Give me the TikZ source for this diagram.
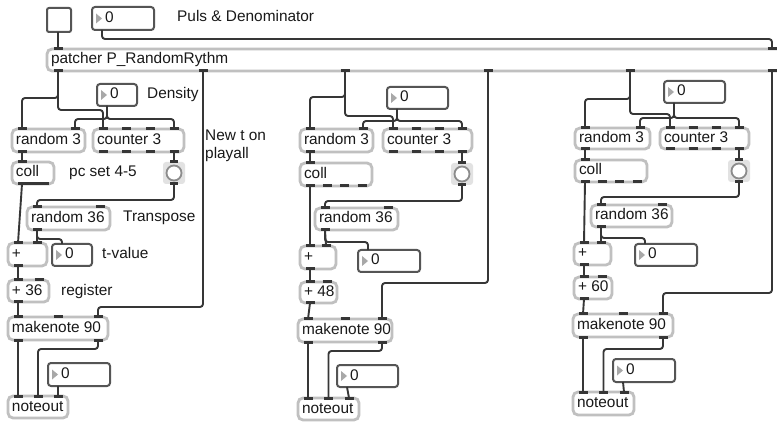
\documentclass[tikz,border=0pt]{standalone}
\usepackage{fontspec}
\setmainfont{Liberation Sans}
\usetikzlibrary{calc}

\definecolor{cordc}{HTML}{363636}
\definecolor{boxedge}{HTML}{C0C0C0}
\definecolor{numedge}{HTML}{555555}
\definecolor{trigray}{HTML}{A8A8A8}
\definecolor{bangbg}{HTML}{E2E2E2}
\definecolor{bangedge}{HTML}{8C8C8C}

% inlet / outlet marks along one edge of a box
\newcommand\mxPorts[6]{% name, kind (i/o), x, y, width, count
  \foreach \k in {1,...,#6}{%
    \pgfmathsetmacro\mxPX{#6==1 ? #3+10 : #3+10+(\k-1)*(#5-20)/max(#6-1,1)}%
    \coordinate (#1-#2\k) at (\mxPX,#4);
    \draw[port] (\mxPX-4.5,#4) -- (\mxPX+4.5,#4);
  }%
}
% object box: name, x, y, width, height, text, inlets, outlets
\newcommand\mxObj[8]{%
  \pgfmathsetmacro\mxTW{#4-8}%
  \node[objbox, minimum height=#5pt, anchor=north west] (#1) at (#2,#3) {\makebox[\mxTW pt][l]{#6}};
  \ifnum#7>0 \mxPorts{#1}{i}{#2}{#3}{#4}{#7}\fi
  \ifnum#8>0 \pgfmathsetmacro\mxBot{#3+#5}\mxPorts{#1}{o}{#2}{\mxBot}{#4}{#8}\fi
}
% number box: name, x, y, width, height
\newcommand\mxNum[5]{%
  \node[numbox, minimum width=#4pt, minimum height=#5pt, anchor=north west] (#1) at (#2,#3) {};
  \pgfmathsetmacro\mxMid{#3+#5/2}%
  \pgfmathsetmacro\mxBot{#3+#5}%
  \fill[trigray] (#2+4,\mxMid-5) -- (#2+4,\mxMid+5) -- (#2+10,\mxMid) -- cycle;
  \node[cmt] (#1-v) at (#2+13,\mxMid) {0};
  \coordinate (#1-i1) at (#2+10,#3);
  \coordinate (#1-o1) at (#2+10,\mxBot);
}
% bang: name, x, y
\newcommand\mxBang[3]{%
  \node[fill=bangbg, rounded corners=3pt, minimum size=22pt, inner sep=0pt, outer sep=0pt, anchor=north west] (#1) at (#2,#3) {};
  \node[circle, draw=bangedge, fill=white, line width=1.8pt, minimum size=15pt, inner sep=0pt] (#1-c) at (#1.center) {};
  \coordinate (#1-i1) at (#1.north);
  \coordinate (#1-o1) at (#1.south);
  \draw[port] ($(#1.north)+(-4,0)$) -- ($(#1.north)+(4,0)$);
  \draw[port] ($(#1.south)+(-4,0)$) -- ($(#1.south)+(4,0)$);
}

\begin{document}
\begin{tikzpicture}[x=1pt,y=-1pt,
  every node/.style={font=\fontsize{15.4}{18}\selectfont, text=black!90},
  objbox/.style={draw=boxedge, fill=white, line width=2.8pt, rounded corners=5pt,
    inner xsep=4pt, inner ysep=0pt, outer sep=0pt,
    text height=11pt, text depth=3pt},
  port/.style={draw=cordc, line width=3pt},
  cord/.style={draw=cordc, line width=1.9pt, rounded corners=3pt},
  numbox/.style={draw=numedge, fill=white, line width=2pt, rounded corners=3pt,
    inner sep=0pt, outer sep=0pt},
  cmt/.style={anchor=west, inner sep=0pt, text height=11pt, text depth=3pt},
]
\useasboundingbox (0,0) rectangle (777,422);
\clip (0,0) rectangle (777,422);
\fill[white] (0,0) rectangle (777,422);

% ---------- top row ----------
\node[draw=numedge, fill=white, line width=2pt, rounded corners=2pt, minimum size=24pt,
  inner sep=0pt, outer sep=0pt, anchor=north west] (btn) at (47,8) {};
\coordinate (btn-o1) at (58,32);
\mxNum{pulse}{92}{7}{62}{23}
\node[cmt] (tpuls) at (177,18) {Puls \& Denominator};

% subpatcher spanning the whole width
\mxObj{pat}{47}{49}{745}{22}{patcher P\_RandomRythm}{0}{0}
\foreach \n/\px in {1/58,2/772}{
  \coordinate (pat-i\n) at (\px,49);
  \draw[port] (\px-4.5,49) -- (\px+4.5,49);
}
\foreach \n/\px in {1/58,2/203,3/345,4/488,5/630,6/772}{
  \coordinate (pat-o\n) at (\px,71);
  \draw[port] (\px-4.5,71) -- (\px+4.5,71);
}

\draw[cord] (btn-o1) -- (pat-i1);
\draw[cord] (pulse-o1) -- (102,39) -- (772,39) -- (pat-i2);

% ---------- voice 1 ----------
\mxObj{rA}{12}{129}{73}{23}{random 3}{2}{1}
\mxObj{cA}{93}{129}{91}{23}{counter 3}{4}{4}
\mxNum{dA}{97}{84}{40}{22}
\node[cmt] (tdens) at (147,95) {Density};
\mxObj{colA}{12}{162}{42}{22}{coll}{1}{4}
\mxBang{bA}{163}{162}
\node[cmt] (tpc) at (69,173) {pc set 4-5};
\mxObj{r36A}{27}{207}{83}{23}{random 36}{2}{1}
\node[cmt] (ttrans) at (123,218) {Transpose};
\mxObj{pA}{8}{243}{39}{23}{+}{2}{1}
\mxNum{tA}{52}{244}{40}{22}
\node[cmt] (ttval) at (102,255) {t-value};
\mxObj{p36A}{8}{280}{41}{22}{+ 36}{2}{1}
\node[cmt] (treg) at (61,291) {register};
\mxObj{mA}{8}{317}{100}{23}{makenote 90}{3}{2}
\mxNum{vA}{48}{363}{62}{23}
\mxObj{nA}{8}{396}{60}{22}{noteout}{3}{0}
\node[cmt] (tnew) at (205,137) {New t on};
\node[cmt] (tplay) at (205,155) {playall};

\draw[cord] (pat-o1) -- (58,98) -- (22,98) -- (rA-i1);
\draw[cord] (pat-o1) -- (58,110) -- (103,110) -- (cA-i1);
\draw[cord] (dA-o1) -- (107,119) -- (75,119) -- (rA-i2);
\draw[cord] (dA-o1) -- (107,119) -- (174,119) -- (cA-i4);
\draw[cord] (rA-o1) -- (colA-i1);
\draw[cord] (cA-o4) -- (bA-i1);
\draw[cord] (bA-o1) -- (174,200) -- (37,200) -- (r36A-i1);
\draw[cord] (colA-o1) -- (pA-i1);
\draw[cord] (r36A-o1) -- (pA-i2);
\draw[cord] (r36A-o1) -- (37,239) -- (62,239) -- (tA-i1);
\draw[cord] (pA-o1) -- (p36A-i1);
\draw[cord] (p36A-o1) -- (mA-i1);
\draw[cord] (pat-o2) -- (203,307) -- (98,307) -- (mA-i3);
\draw[cord] (mA-o1) -- (nA-i1);
\draw[cord] (mA-o2) -- (98,349) -- (38,349) -- (nA-i2);
\draw[cord] (vA-o1) -- (nA-i3);

% ---------- voice 2 ----------
\mxObj{rB}{300}{129}{73}{23}{random 3}{2}{1}
\mxObj{cB}{383}{129}{89}{23}{counter 3}{4}{4}
\mxNum{dB}{387}{87}{61}{22}
\mxObj{colB}{300}{163}{72}{23}{coll}{1}{4}
\mxBang{bB}{451}{163}
\mxObj{r36B}{315}{208}{83}{22}{random 36}{2}{1}
\mxObj{pB}{300}{246}{36}{23}{+}{2}{1}
\mxNum{tB}{358}{250}{62}{22}
\mxObj{p48B}{300}{282}{37}{21}{+ 48}{2}{1}
\mxObj{mB}{298}{319}{94}{23}{makenote 90}{3}{2}
\mxNum{vB}{337}{365}{61}{22}
\mxObj{nB}{298}{398}{61}{22}{noteout}{3}{0}

\draw[cord] (pat-o3) -- (345,97) -- (310,97) -- (rB-i1);
\draw[cord] (pat-o3) -- (345,116) -- (393,116) -- (cB-i1);
\draw[cord] (dB-o1) -- (397,121) -- (363,121) -- (rB-i2);
\draw[cord] (dB-o1) -- (397,121) -- (462,121) -- (cB-i4);
\draw[cord] (rB-o1) -- (colB-i1);
\draw[cord] (cB-o4) -- (bB-i1);
\draw[cord] (bB-o1) -- (462,201) -- (325,201) -- (r36B-i1);
\draw[cord] (colB-o1) -- (pB-i1);
\draw[cord] (r36B-o1) -- (pB-i2);
\draw[cord] (r36B-o1) -- (325,242) -- (368,242) -- (tB-i1);
\draw[cord] (pB-o1) -- (p48B-i1);
\draw[cord] (p48B-o1) -- (mB-i1);
\draw[cord] (pat-o4) -- (488,283) -- (382,283) -- (mB-i3);
\draw[cord] (mB-o1) -- (nB-i1);
\draw[cord] (mB-o2) -- (382,351) -- (328.5,351) -- (nB-i2);
\draw[cord] (vB-o1) -- (nB-i3);

% ---------- voice 3 ----------
\mxObj{rC}{575}{128}{75}{21}{random 3}{2}{1}
\mxObj{cC}{660}{128}{89}{21}{counter 3}{4}{4}
\mxNum{dC}{664}{81}{61}{22}
\mxObj{colC}{575}{160}{72}{22}{coll}{1}{4}
\mxBang{bC}{728}{160}
\mxObj{r36C}{591}{205}{81}{22}{random 36}{2}{1}
\mxObj{pC}{574}{243}{37}{22}{+}{2}{1}
\mxNum{tC}{635}{244}{62}{22}
\mxObj{p60C}{574}{277}{38}{22}{+ 60}{2}{1}
\mxObj{mC}{573}{314}{100}{23}{makenote 90}{3}{2}
\mxNum{vC}{613}{359}{62}{23}
\mxObj{nC}{573}{392}{61}{23}{noteout}{3}{0}

\draw[cord] (pat-o5) -- (630,99) -- (585,99) -- (rC-i1);
\draw[cord] (pat-o5) -- (630,114) -- (670,114) -- (cC-i1);
\draw[cord] (dC-o1) -- (674,118) -- (640,118) -- (rC-i2);
\draw[cord] (dC-o1) -- (674,118) -- (739,118) -- (cC-i4);
\draw[cord] (rC-o1) -- (colC-i1);
\draw[cord] (cC-o4) -- (bC-i1);
\draw[cord] (bC-o1) -- (739,197) -- (601,197) -- (r36C-i1);
\draw[cord] (colC-o1) -- (pC-i1);
\draw[cord] (r36C-o1) -- (pC-i2);
\draw[cord] (r36C-o1) -- (601,238) -- (645,238) -- (tC-i1);
\draw[cord] (pC-o1) -- (p60C-i1);
\draw[cord] (p60C-o1) -- (mC-i1);
\draw[cord] (pat-o6) -- (772,293) -- (663,293) -- (mC-i3);
\draw[cord] (mC-o1) -- (nC-i1);
\draw[cord] (mC-o2) -- (663,349) -- (603.5,349) -- (nC-i2);
\draw[cord] (vC-o1) -- (nC-i3);
\end{tikzpicture}
\end{document}
